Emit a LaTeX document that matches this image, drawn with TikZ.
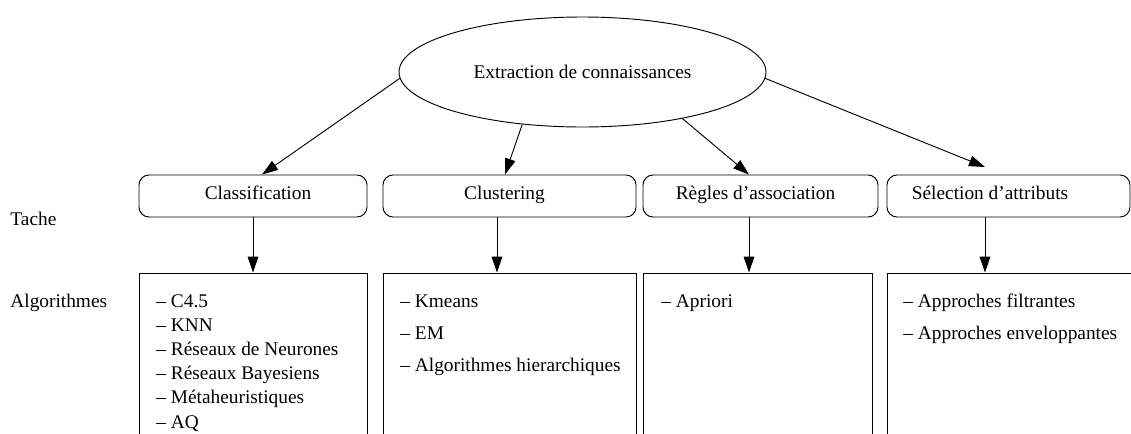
\documentclass[tikz,border=0pt]{standalone}
\usepackage{fontspec}
\setmainfont{Liberation Serif}
\usetikzlibrary{arrows.meta,shapes.geometric}
\begin{document}
\begin{tikzpicture}[x=0.75pt,y=-0.75pt,
  font=\fontsize{14.5}{17.4}\selectfont,
  line width=0.7pt,
  arr/.style={-{Triangle[length=12pt,width=8pt]}},
  taskbox/.style={draw, rectangle, rounded corners=7.5pt, minimum height=31.5pt,
    inner sep=0pt, text height=0.7em, text depth=0.25em},
  algobox/.style={draw, rectangle, minimum height=150pt, inner sep=0pt},
  item/.style={anchor=base west, inner sep=0pt},
  side/.style={anchor=base west, inner sep=0pt}]
\useasboundingbox (0,0) rectangle (1131,433);
\clip (0,0) rectangle (1131,433);

% root
\node[draw, ellipse, minimum width=275.25pt, minimum height=82.5pt, inner sep=0pt]
  (ell) at (582.5,72) {Extraction de connaissances};

% task boxes
\node[taskbox, minimum width=171pt]    (t1) at (253,196)    {\hspace*{7.5pt}Classification};
\node[taskbox, minimum width=189.75pt] (t2) at (509.5,196)  {Clustering\hspace*{7.5pt}};
\node[taskbox, minimum width=176.25pt] (t3) at (760.5,196)  {R\`egles d'association\hspace*{7.5pt}};
\node[taskbox, minimum width=182.25pt] (t4) at (1008.5,196) {S\'election d'attributs\hspace*{27.75pt}};

% algorithm boxes (open at the bottom / right, clipped)
\node[algobox, minimum width=171pt]    (a1) at (253,373)    {};
\node[algobox, minimum width=189.75pt] (a2) at (509.5,373)  {};
\node[algobox, minimum width=171.75pt] (a3) at (757.5,373)  {};
\node[algobox, minimum width=212.25pt] (a4) at (1028.5,373) {};

% side labels
\node[side] (tache) at (10,225) {Tache};
\node[side] (algos) at (10,307) {Algorithmes};

% arrow x positions
\coordinate (h1) at (262,0);
\coordinate (h2) at (505,0);
\coordinate (h3) at (749,0);
\coordinate (h4) at (985,0);
\coordinate (e4) at (985,167);
\coordinate (v2) at (497,0);
\coordinate (v3) at (749,0);
\coordinate (v4) at (985,0);

% root -> tasks
\draw[arr] (ell.182)   -- (t1.north -| h1);
\draw[arr] (ell.221)   -- (t2.north -| h2);
\draw[arr] (ell.335.6) -- (t3.north -| h3);
\draw[arr] (ell.358)   -- (e4);

% tasks -> algorithms
\draw[arr] (t1.south) -- (a1.north);
\draw[arr] (t2.south -| v2) -- (a2.north -| v2);
\draw[arr] (t3.south -| v3) -- (a3.north -| v3);
\draw[arr] (t4.south -| v4) -- (a4.north -| v4);

% lists
\node[item] (c1) at (156,307)   {-- C4.5};
\node[item] (c2) at (156,331.2) {-- KNN};
\node[item] (c3) at (156,355.4) {-- R\'eseaux de Neurones};
\node[item] (c4) at (156,379.6) {-- R\'eseaux Bayesiens};
\node[item] (c5) at (156,403.8) {-- M\'etaheuristiques};
\node[item] (c6) at (156,428)   {-- AQ};

\node[item] (k1) at (400,307) {-- Kmeans};
\node[item] (k2) at (400,339) {-- EM};
\node[item] (k3) at (400,371) {-- Algorithmes hierarchiques};

\node[item] (r1) at (661,307) {-- Apriori};

\node[item] (s1) at (903,307) {-- Approches filtrantes};
\node[item] (s2) at (903,339) {-- Approches enveloppantes};
\end{tikzpicture}
\end{document}
